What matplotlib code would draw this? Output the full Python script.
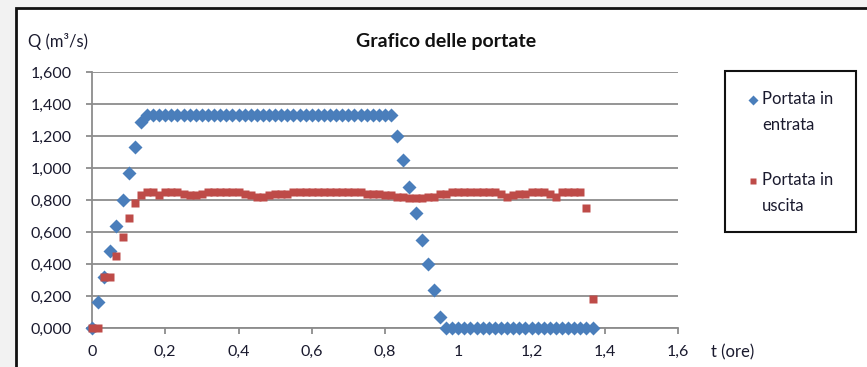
import matplotlib.pyplot as plt
import numpy as np
from matplotlib.patches import Rectangle
from matplotlib.lines import Line2D
from matplotlib.ticker import FuncFormatter

plt.rcParams["font.family"] = ["Lato", "DejaVu Sans"]

# time step of one minute, expressed in hours
dt = 1 / 60

q_in = (
    [0.0, 0.16, 0.32, 0.48, 0.64, 0.80, 0.97, 1.13, 1.29]
    + [1.33] * 41
    + [1.20, 1.05, 0.88, 0.72, 0.55, 0.40, 0.24, 0.07]
    + [0.0] * 25
)

q_out = (
    [0.0, 0.0, 0.32, 0.32, 0.45, 0.57, 0.69, 0.78, 0.83]
    + [0.85, 0.85, 0.83, 0.85, 0.85, 0.85, 0.835, 0.83, 0.83, 0.835]
    + [0.85, 0.85, 0.85, 0.85, 0.85, 0.85, 0.84, 0.83, 0.82, 0.82, 0.83]
    + [0.84, 0.84, 0.84]
    + [0.85] * 12
    + [0.84, 0.84, 0.84, 0.83, 0.83, 0.82, 0.82, 0.81, 0.81, 0.81]
    + [0.82, 0.82, 0.835, 0.84]
    + [0.85] * 8
    + [0.84, 0.82, 0.83, 0.84, 0.84, 0.85, 0.85, 0.85, 0.84, 0.82]
    + [0.85, 0.85, 0.85, 0.85, 0.75, 0.18]
)

t_in = np.arange(len(q_in)) * dt
t_out = np.arange(len(q_out)) * dt

W, H = 867, 367


def fx(x):
    return x / W


def fy(y):
    return 1 - y / H


fig = plt.figure(figsize=(W / 100, H / 100), dpi=100)
fig.patch.set_facecolor("#f2f2f2")

# chart frame
fig.patches.append(Rectangle((fx(16), -0.1), 1.2, fy(8) + 0.1, transform=fig.transFigure,
                             facecolor="white", edgecolor="#111111", lw=2, zorder=-5))

ax = fig.add_axes([fx(92), fy(328), fx(678) - fx(92), fy(72) - fy(328)])
ax.set_zorder(1)
ax.set_facecolor("white")

blue = "#4a7ebb"
red = "#be4b48"
grid_c = "#8c8c8c"

ax.plot(t_in, q_in, linestyle="none", marker="D", ms=7.2, color=blue, mec="none", clip_on=False, zorder=3)
ax.plot(t_out, q_out, linestyle="none", marker="s", ms=5.2, color=red, mec="none", clip_on=False, zorder=4)

ax.set_xlim(0, 1.6)
ax.set_ylim(0, 1.6)
ax.set_xticks(np.arange(0, 1.61, 0.2))
ax.set_yticks(np.arange(0, 1.61, 0.2))
ax.yaxis.set_major_formatter(FuncFormatter(lambda v, p: f"{v:.3f}".replace(".", ",")))
ax.xaxis.set_major_formatter(FuncFormatter(lambda v, p: f"{round(v, 1):g}".replace(".", ",")))

ax.grid(axis="y", color=grid_c, lw=1.3)
ax.set_axisbelow(True)
for s in ["top", "right"]:
    ax.spines[s].set_visible(False)
for s in ["left", "bottom"]:
    ax.spines[s].set_color(grid_c)
    ax.spines[s].set_linewidth(1.3)
ax.tick_params(axis="both", direction="out", length=4.5, width=1.3, color=grid_c,
               labelsize=11.5, labelcolor="#1a1a2e")
ax.tick_params(axis="y", pad=10)
ax.tick_params(axis="x", pad=8)

fig.text(fx(446), fy(41), "Grafico delle portate", ha="center", va="center",
         fontsize=14, fontweight="bold", color="#111111")
fig.text(fx(28), fy(41), "Q (m³/s)", ha="left", va="center", fontsize=12, color="#1a1a2e")
fig.text(fx(711), fy(352), "t (ore)", ha="left", va="center", fontsize=12, color="#1a1a2e")

# legend box
fig.patches.append(Rectangle((fx(725), fy(232)), fx(856) - fx(725), fy(71) - fy(232),
                             transform=fig.transFigure, facecolor="white", edgecolor="#111111",
                             lw=1.5, zorder=5))
fig.lines.append(Line2D([fx(753)], [fy(100)], marker="D", ms=5.5, color=blue, mec="none",
                        transform=fig.transFigure, zorder=6))
fig.lines.append(Line2D([fx(753)], [fy(181)], marker="s", ms=4.5, color=red, mec="none",
                        transform=fig.transFigure, zorder=6))
for y0, lines in [(99, ["Portata in", "entrata"]), (180, ["Portata in", "uscita"])]:
    for k, s in enumerate(lines):
        fig.text(fx(762), fy(y0 + 26 * k), s, ha="left", va="center", fontsize=12,
                 color="#1a1a2e", zorder=7)

fig.savefig("out.png", dpi=100)
